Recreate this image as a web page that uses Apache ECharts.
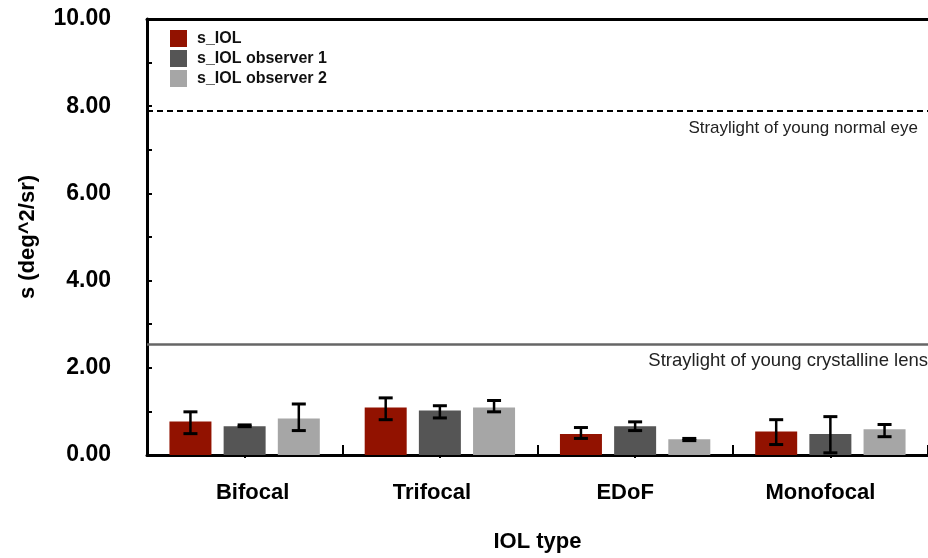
<!DOCTYPE html>
<html>
<head>
<meta charset="utf-8">
<script src="https://cdn.jsdelivr.net/npm/echarts@6/dist/echarts.min.js"></script>
<style>
html,body{margin:0;padding:0;background:#fff;}
#chart{width:928px;height:558px;}
</style>
</head>
<body>
<div id="chart"></div>
<script>
const categories = ['Bifocal', 'Trifocal', 'EDoF', 'Monofocal'];
const seriesNames = ['s_IOL', 's_IOL observer 1', 's_IOL observer 2'];
const sIOL = [0.77, 1.09, 0.48, 0.54];
const sIOLobs1 = [0.66, 1.02, 0.66, 0.48];
const sIOLobs2 = [0.84, 1.09, 0.36, 0.59];
const sIOLlow = [0.49, 0.81, 0.38, 0.24];
const sIOLhigh = [0.99, 1.31, 0.63, 0.81];
const obs1low = [0.65, 0.85, 0.56, 0.05];
const obs1high = [0.69, 1.13, 0.76, 0.88];
const obs2low = [0.56, 0.99, 0.33, 0.42];
const obs2high = [1.17, 1.25, 0.38, 0.70];
const yTicks = [0, 2, 4, 6, 8, 10];
const refNormalEye = 7.9;
const refCrystalline = 2.54;
const refNormalEyeLabel = 'Straylight of young normal eye';
const refCrystallineLabel = 'Straylight of young crystalline lens';

const colors = ['#921200', '#555555', '#a6a6a6'];
const FONT = 'Liberation Sans, Arial, Helvetica, sans-serif';
const BAR_W = 42;
const GAP = 0.29;
// small horizontal nudges of the category labels, as in the reference
const labelShift = [8, -8, -10, -10];

const values = [sIOL, sIOLobs1, sIOLobs2];
const lows = [sIOLlow, obs1low, obs2low];
const highs = [sIOLhigh, obs1high, obs2high];

const chart = echarts.init(document.getElementById('chart'), null, {renderer: 'canvas'});

const series = [];
values.forEach((vals, k) => {
  const s = {
    name: seriesNames[k],
    type: 'bar',
    xAxisIndex: 0,
    yAxisIndex: 0,
    barWidth: BAR_W,
    barGap: (GAP * 100) + '%',
    itemStyle: {color: colors[k]},
    data: vals,
    z: 2
  };
  if (k === 0) {
    s.markLine = {
      symbol: 'none',
      silent: true,
      animation: false,
      data: [
        {
          yAxis: refNormalEye,
          lineStyle: {type: [6, 4], color: '#000', width: 2},
          label: {show: true, position: 'insideEndBottom', formatter: refNormalEyeLabel,
                  color: '#222', fontSize: 17, fontFamily: FONT, distance: [10, 9]}
        },
        {
          yAxis: refCrystalline,
          lineStyle: {type: 'solid', color: '#666', width: 2.5},
          label: {show: true, position: 'insideEndBottom', formatter: refCrystallineLabel,
                  color: '#222', fontSize: 18.5, fontFamily: FONT, distance: [0, 7]}
        }
      ]
    };
  }
  series.push(s);
});

values.forEach((vals, k) => {
  series.push({
    type: 'custom',
    xAxisIndex: 0,
    yAxisIndex: 0,
    z: 5,
    silent: true,
    data: categories.map((c, i) => [i, lows[k][i], highs[k][i]]),
    renderItem: function (params, api) {
      const off = (k - 1) * BAR_W * (1 + GAP);
      const pLow = api.coord([api.value(0), api.value(1)]);
      const pHigh = api.coord([api.value(0), api.value(2)]);
      const x = pLow[0] + off;
      const hw = 7;
      const st = {stroke: '#000', lineWidth: 3};
      return {
        type: 'group',
        children: [
          {type: 'line', shape: {x1: x, y1: pLow[1], x2: x, y2: pHigh[1]}, style: {stroke: '#000', lineWidth: 2.5}},
          {type: 'line', shape: {x1: x - hw, y1: pLow[1], x2: x + hw, y2: pLow[1]}, style: st},
          {type: 'line', shape: {x1: x - hw, y1: pHigh[1], x2: x + hw, y2: pHigh[1]}, style: st}
        ]
      };
    }
  });
});

const rich = {};
labelShift.forEach((d, i) => {
  rich['c' + i] = {
    fontFamily: FONT, fontWeight: 'bold', fontSize: 22, color: '#000',
    padding: d >= 0 ? [0, 0, 0, 2 * d] : [0, -2 * d, 0, 0]
  };
});

const option = {
  animation: false,
  backgroundColor: '#fff',
  textStyle: {fontFamily: FONT},
  legend: {
    orient: 'vertical',
    left: 165,
    top: 25,
    itemWidth: 17,
    itemHeight: 17,
    itemGap: 3,
    icon: 'rect',
    data: seriesNames,
    textStyle: {fontFamily: FONT, fontWeight: 'bold', fontSize: 16, color: '#111', padding: [0, 0, 0, 5]}
  },
  grid: {left: 147, top: 19, bottom: 97, right: -5, containLabel: false},
  xAxis: [
    {
      type: 'category',
      data: categories,
      position: 'bottom',
      axisLine: {show: true, lineStyle: {color: '#000', width: 3}},
      axisTick: {show: true, inside: true, interval: 0, length: 10, lineStyle: {color: '#000', width: 2}},
      axisLabel: {
        interval: 0,
        fontFamily: FONT, fontWeight: 'bold', fontSize: 22, color: '#000', margin: 27,
        formatter: function (v, i) { return '{c' + i + '|' + v + '}'; },
        rich: rich
      },
      name: 'IOL type',
      nameLocation: 'middle',
      nameGap: 76,
      nameTextStyle: {fontFamily: FONT, fontWeight: 'bold', fontSize: 22, color: '#000'},
      splitLine: {show: false}
    },
    {
      type: 'category',
      data: categories,
      position: 'bottom',
      axisLine: {show: false},
      axisTick: {show: true, interval: 0, alignWithLabel: true, length: 3, lineStyle: {color: '#000', width: 2}},
      axisLabel: {show: false},
      splitLine: {show: false}
    },
    {
      type: 'category',
      data: categories,
      position: 'top',
      axisLine: {show: true, lineStyle: {color: '#000', width: 3}},
      axisTick: {show: false},
      axisLabel: {show: false},
      splitLine: {show: false}
    }
  ],
  yAxis: {
    type: 'value',
    min: 0,
    max: 10,
    interval: 2,
    axisLine: {show: true, lineStyle: {color: '#000', width: 3}},
    axisTick: {show: true, inside: true, length: 5, lineStyle: {color: '#000', width: 2}},
    minorTick: {show: true, splitNumber: 2, length: 5, lineStyle: {color: '#000', width: 2}},
    splitLine: {show: false},
    axisLabel: {
      fontFamily: FONT, fontWeight: 'bold', fontSize: 23, color: '#000', margin: 36,
      padding: [6, 0, 0, 0],
      formatter: function (v) { return yTicks.indexOf(v) >= 0 ? v.toFixed(2) : ''; }
    },
    name: 's (deg^2/sr)',
    nameLocation: 'middle',
    nameGap: 108,
    nameTextStyle: {fontFamily: FONT, fontWeight: 'bold', fontSize: 22, color: '#000'}
  },
  series: series
};
chart.setOption(option);
</script>
</body>
</html>
